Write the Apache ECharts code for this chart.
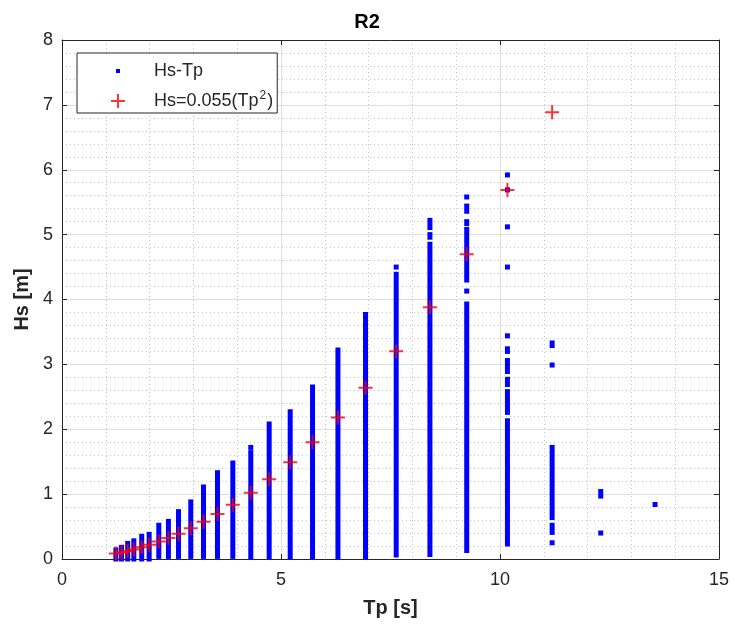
<!DOCTYPE html>
<html>
<head>
<meta charset="utf-8">
<title>R2</title>
<script src="https://cdn.jsdelivr.net/npm/echarts@6/dist/echarts.min.js"></script>
<style>
  html, body { margin: 0; padding: 0; background: #fff; }
  #chart { width: 734px; height: 626px; }
</style>
</head>
<body>
<div id="chart"></div>
<script>
// Tp bins (s) where the red fit markers sit
const fitTp = [1.23, 1.36, 1.50, 1.64, 1.82, 1.99, 2.21, 2.43, 2.66, 2.94, 3.23, 3.55,
  3.90, 4.31, 4.73, 5.21, 5.72, 6.30, 6.93, 7.63, 8.40, 9.24, 10.17, 11.19];
// Hs=0.055(Tp^2) values
const fitHs = [0.083, 0.102, 0.124, 0.148, 0.182, 0.218, 0.269, 0.325, 0.389, 0.475, 0.574, 0.693,
  0.837, 1.022, 1.231, 1.493, 1.80, 2.183, 2.641, 3.202, 3.881, 4.696, 5.689, 6.887];

// blue Hs-Tp samples, as runs of points: [Tp, Hs low, Hs high]
const hsTpRuns = [
  [1.23, 0.0, 0.14], [1.36, 0.0, 0.18], [1.50, 0.0, 0.24], [1.64, 0.0, 0.28],
  [1.82, 0.0, 0.35], [1.99, 0.0, 0.38], [2.21, 0.04, 0.52], [2.43, 0.04, 0.58],
  [2.66, 0.04, 0.73], [2.94, 0.04, 0.88], [3.23, 0.04, 1.11], [3.55, 0.04, 1.33],
  [3.90, 0.04, 1.48], [4.31, 0.03, 1.64], [4.31, 1.72, 1.72], [4.73, 0.03, 2.08],
  [5.21, 0.03, 2.27], [5.72, 0.03, 2.65], [6.30, 0.03, 3.22], [6.93, 0.03, 3.77],
  [7.63, 0.06, 4.39], [7.63, 4.50, 4.50],
  [8.40, 0.07, 4.85], [8.40, 4.96, 5.00], [8.40, 5.11, 5.22],
  [9.24, 0.13, 3.93], [9.24, 4.13, 4.13], [9.24, 4.30, 5.08], [9.24, 5.17, 5.20],
  [9.24, 5.36, 5.44], [9.24, 5.58, 5.58],
  [10.17, 0.23, 2.13], [10.17, 2.26, 2.58], [10.17, 2.69, 2.77], [10.17, 2.89, 3.06],
  [10.17, 3.20, 3.24], [10.17, 3.44, 3.44], [10.17, 4.50, 4.50], [10.17, 5.12, 5.12],
  [10.17, 5.69, 5.69], [10.17, 5.92, 5.92],
  [11.19, 0.25, 0.25], [11.19, 0.41, 0.52], [11.19, 0.64, 1.72], [11.19, 2.99, 2.99],
  [11.19, 3.29, 3.33],
  [12.30, 0.40, 0.40], [12.30, 0.97, 1.04],
  [13.54, 0.84, 0.84]
];

const xTicks = [0, 5, 10, 15];
const yTicks = [0, 1, 2, 3, 4, 5, 6, 7, 8];

const FONT = "'Liberation Sans', Arial, sans-serif";
const AXIS_COLOR = '#262626';
const PLUS_PATH = 'path://M6,0h2v6h6v2h-6v6h-2v-6h-6v-2h6z';

const chart = echarts.init(document.getElementById('chart'), null, { renderer: 'canvas' });

// each run is drawn as a column of square markers (5px wide)
function renderRun(params, api) {
  const low = api.coord([api.value(0), api.value(1)]);
  const high = api.coord([api.value(0), api.value(2)]);
  return {
    type: 'rect',
    shape: { x: low[0] - 2.5, y: high[1] - 2.5, width: 5, height: low[1] - high[1] + 5 },
    style: { fill: '#0000ff' }
  };
}

function baseAxis(min, max, interval, ticks, showLabel, position) {
  return {
    type: 'value',
    min: min,
    max: max,
    interval: interval,
    position: position,
    axisLine: { show: true, onZero: false, lineStyle: { color: AXIS_COLOR, width: 1 } },
    axisTick: { show: true, inside: true, length: 5, lineStyle: { color: AXIS_COLOR } },
    axisLabel: {
      show: showLabel,
      color: AXIS_COLOR,
      fontSize: 18,
      fontFamily: FONT,
      formatter: function (v) { return ticks.indexOf(v) >= 0 ? String(v) : ''; }
    },
    splitLine: { show: showLabel, lineStyle: { color: '#dedede', width: 1 } },
    minorTick: { show: false, splitNumber: 5 },
    minorSplitLine: { show: showLabel, lineStyle: { color: '#c4c4c4', width: 1, type: [1, 3] } }
  };
}

const xBottom = baseAxis(0, 15, 5, xTicks, true, 'bottom');
xBottom.name = 'Tp [s]';
xBottom.nameLocation = 'middle';
xBottom.nameGap = 39;
xBottom.nameTextStyle = { color: AXIS_COLOR, fontSize: 20, fontWeight: 'bold', fontFamily: FONT };
xBottom.axisLabel.margin = 12;

const yLeft = baseAxis(0, 8, 1, yTicks, true, 'left');
yLeft.name = 'Hs [m]';
yLeft.nameLocation = 'middle';
yLeft.nameGap = 30;
yLeft.nameTextStyle = { color: AXIS_COLOR, fontSize: 20, fontWeight: 'bold', fontFamily: FONT };
yLeft.axisLabel.margin = 9;

const option = {
  backgroundColor: '#ffffff',
  animation: false,
  title: {
    text: 'R2',
    left: 'center',
    top: 12,
    padding: 0,
    textStyle: { color: '#000', fontSize: 20, fontWeight: 'bold', fontFamily: FONT }
  },
  grid: { left: 62, right: 15, top: 40, bottom: 67, containLabel: false },
  legend: {
    orient: 'vertical',
    left: 77,
    top: 53,
    padding: [6, 4, 3, 29],
    itemGap: 7,
    itemWidth: 14,
    itemHeight: 14,
    backgroundColor: '#ffffff',
    borderColor: AXIS_COLOR,
    borderWidth: 1,
    borderRadius: 0,
    selectedMode: false,
    data: [
      { name: 'Hs-Tp', icon: 'rect', itemStyle: { color: '#0000ff', borderColor: '#ffffff', borderWidth: 10 } },
      { name: 'fit', icon: PLUS_PATH, itemStyle: { color: '#ff0000', borderWidth: 0 } }
    ],
    formatter: function (name) {
      if (name === 'Hs-Tp') return '{a|Hs-Tp}';
      return '{a|Hs=0.055(Tp}{s|2}{b|)}';
    },
    textStyle: {
      color: AXIS_COLOR,
      fontFamily: FONT,
      fontSize: 18,
      rich: {
        a: { fontSize: 18, fontFamily: FONT, color: AXIS_COLOR, lineHeight: 22, padding: [0, 0, 0, 24] },
        b: { fontSize: 18, fontFamily: FONT, color: AXIS_COLOR, lineHeight: 22 },
        s: { fontSize: 12, fontFamily: FONT, color: AXIS_COLOR, lineHeight: 22, verticalAlign: 'top', padding: [0, 1, 8, 1] }
      }
    }
  },
  xAxis: [xBottom, baseAxis(0, 15, 5, xTicks, false, 'top')],
  yAxis: [yLeft, baseAxis(0, 8, 1, yTicks, false, 'right')],
  series: [
    {
      name: 'Hs-Tp',
      type: 'custom',
      renderItem: renderRun,
      data: hsTpRuns,
      itemStyle: { color: '#0000ff' },
      encode: { x: 0, y: [1, 2] },
      clip: false,
      z: 2
    },
    {
      name: 'fit',
      type: 'scatter',
      data: fitTp.map(function (tp, i) { return [tp, fitHs[i]]; }),
      symbol: PLUS_PATH,
      symbolSize: 14,
      itemStyle: { color: '#ff0000' },
      z: 3
    }
  ]
};

chart.setOption(option);
</script>
</body>
</html>
